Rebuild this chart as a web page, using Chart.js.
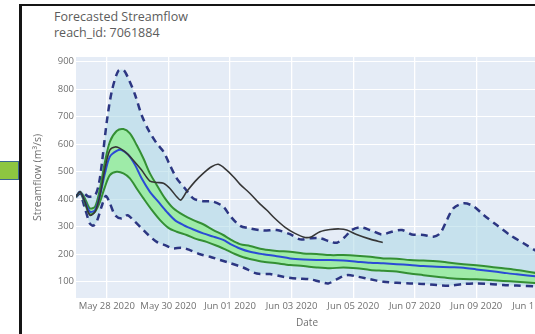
<!DOCTYPE html>
<html>
<head>
<meta charset="utf-8">
<script src="https://cdn.jsdelivr.net/npm/chart.js@4.4.1/dist/chart.umd.min.js"></script>
<style>
  html, body { margin: 0; padding: 0; background: #fff; width: 535px; height: 334px; overflow: hidden; }
  #frame { position: absolute; left: 19px; top: 4px; width: 640px; height: 400px;
           border-left: 3px solid #151515; border-top: 2px solid #151515; background: #fff; }
  #tab { position: absolute; left: -3px; top: 161px; width: 20px; height: 17px;
         background: #8dc641; border: 1.5px solid #3b6690; }
  #title { position: absolute; left: 54px; top: 9px; font: 12.5px/15.6px "Open Sans", sans-serif;
           color: #5c5c5c; white-space: nowrap; }
  #wrap { position: absolute; left: 0; top: 0; width: 600px; height: 334px; }
</style>
</head>
<body>
<div id="frame"></div>
<div id="tab"></div>
<div id="title">Forecasted Streamflow<br>reach_id: 7061884</div>
<div id="wrap"><canvas id="c" width="600" height="334"></canvas></div>
<script>
// x values are days after May 27 2020 00:00
const xTickDays = [1, 3, 5, 7, 9, 11, 13, 15];
const xTickLabels = ['May 28 2020', 'May 30 2020', 'Jun 01 2020', 'Jun 03 2020',
                     'Jun 05 2020', 'Jun 07 2020', 'Jun 09 2020', 'Jun 11 2020'];
const yTicks = [100, 200, 300, 400, 500, 600, 700, 800, 900];

// ensemble maximum
const maxDays = [0, 0.18, 0.4, 0.62, 0.75, 0.85, 1.0, 1.16, 1.37, 1.54, 1.7, 1.92, 2.13, 2.35, 2.62, 2.84, 3.05, 3.27, 3.54, 3.81, 4.13, 4.46, 4.78, 5.0, 5.33, 5.65, 6.09, 6.52, 6.95, 7.28, 7.6, 7.93, 8.25, 8.47, 8.74, 8.95, 9.22, 9.55, 9.93, 10.25, 10.58, 10.9, 11.28, 11.6, 11.82, 12.04, 12.25, 12.58, 12.9, 13.23, 13.66, 14.09, 14.53, 15.0];
const maxFlow = [409, 427, 410, 415, 460, 540, 682, 791, 866, 870, 839, 779, 706, 652, 603, 573, 524, 476, 439, 403, 393, 391, 373, 340, 303, 294, 286, 288, 273, 254, 258, 258, 246, 242, 264, 288, 298, 288, 272, 282, 288, 272, 270, 264, 276, 324, 367, 385, 375, 343, 306, 270, 240, 208];

// ensemble minimum
const minDays = [0, 0.13, 0.29, 0.45, 0.56, 0.67, 0.83, 0.97, 1.1, 1.27, 1.48, 1.67, 1.86, 2.08, 2.35, 2.62, 2.89, 3.16, 3.43, 3.7, 4.03, 4.35, 4.68, 5.0, 5.43, 5.87, 6.3, 6.73, 7.16, 7.6, 7.92, 8.19, 8.46, 8.79, 9.17, 9.55, 9.98, 10.41, 10.84, 11.28, 11.71, 12.14, 12.58, 13.0, 13.44, 13.87, 14.31, 15.0];
const minFlow = [409, 421, 367, 312, 304, 318, 373, 412, 385, 342, 330, 342, 324, 300, 270, 245, 233, 221, 224, 215, 200, 191, 179, 168, 152, 130, 128, 118, 112, 109, 100, 94, 109, 124, 118, 109, 100, 96, 94, 92, 88, 86, 92, 94, 92, 88, 86, 83];

// 75th percentile
const p75Days = [0, 0.13, 0.29, 0.45, 0.62, 0.78, 0.94, 1.1, 1.32, 1.54, 1.75, 1.97, 2.19, 2.4, 2.62, 2.89, 3.16, 3.49, 3.81, 4.13, 4.46, 4.78, 5.0, 5.32, 5.65, 6.08, 6.52, 6.95, 7.38, 7.81, 8.25, 8.68, 9.11, 9.55, 9.98, 10.41, 10.84, 11.28, 11.71, 12.14, 12.58, 13.0, 13.44, 13.87, 14.31, 15.0];
const p75Flow = [409, 427, 403, 367, 373, 439, 536, 609, 648, 655, 639, 597, 548, 494, 452, 403, 367, 342, 324, 309, 288, 270, 255, 237, 230, 218, 212, 209, 203, 201, 197, 197, 195, 191, 185, 184, 179, 177, 175, 169, 164, 160, 155, 149, 143, 131];

// ensemble mean
const meanDays = [0, 0.13, 0.29, 0.45, 0.62, 0.78, 0.94, 1.1, 1.32, 1.48, 1.7, 1.92, 2.13, 2.4, 2.67, 2.94, 3.21, 3.49, 3.81, 4.13, 4.46, 4.78, 5.0, 5.32, 5.65, 6.08, 6.52, 6.95, 7.38, 7.81, 8.25, 8.68, 9.11, 9.55, 9.98, 10.41, 10.84, 11.28, 11.71, 12.14, 12.58, 13.0, 13.44, 13.87, 14.31, 15.0];
const meanFlow = [409, 427, 391, 355, 361, 415, 494, 555, 576, 579, 561, 524, 476, 427, 391, 355, 324, 306, 290, 276, 264, 252, 238, 221, 209, 200, 193, 185, 181, 179, 179, 177, 173, 169, 167, 164, 161, 157, 155, 153, 151, 145, 139, 133, 127, 119];

// 25th percentile
const p25Days = [0, 0.13, 0.29, 0.45, 0.62, 0.78, 0.94, 1.1, 1.32, 1.54, 1.75, 1.97, 2.19, 2.46, 2.73, 3.0, 3.27, 3.59, 3.92, 4.24, 4.57, 4.89, 5.16, 5.43, 5.65, 6.08, 6.52, 6.95, 7.38, 7.81, 8.25, 8.68, 9.11, 9.55, 9.98, 10.41, 10.84, 11.28, 11.71, 12.14, 12.58, 13.0, 13.44, 13.87, 14.31, 15.0];
const p25Flow = [409, 424, 385, 345, 355, 391, 445, 488, 500, 494, 476, 439, 403, 361, 324, 296, 282, 270, 255, 245, 231, 215, 201, 189, 183, 173, 167, 161, 157, 152, 149, 152, 149, 143, 140, 137, 130, 124, 118, 113, 110, 109, 106, 103, 100, 95];

// high resolution forecast
const hresDays = [0, 0.13, 0.29, 0.45, 0.62, 0.78, 0.94, 1.1, 1.27, 1.43, 1.65, 1.86, 2.13, 2.4, 2.62, 2.84, 3.05, 3.27, 3.4, 3.59, 3.86, 4.13, 4.4, 4.62, 4.89, 5.11, 5.32, 5.65, 5.97, 6.19, 6.46, 6.79, 7.11, 7.44, 7.65, 7.92, 8.25, 8.57, 8.79, 9.11, 9.55, 9.96];
const hresFlow = [409, 427, 391, 342, 355, 415, 512, 579, 590, 585, 567, 542, 506, 466, 461, 458, 439, 409, 397, 427, 464, 494, 518, 527, 506, 482, 455, 421, 383, 361, 330, 298, 276, 261, 264, 282, 290, 292, 288, 272, 255, 243];

const pts = (xs, ys) => xs.map((x, i) => ({ x: x, y: ys[i] }));

// light blue-grey plotting area behind the grid
const plotBg = {
  id: 'plotBg',
  beforeDraw(chart) {
    const { ctx, chartArea: { left, top, width, height } } = chart;
    ctx.save();
    ctx.fillStyle = '#E5ECF6';
    ctx.fillRect(left, top, width, height);
    ctx.restore();
  }
};

const tickFont = { family: 'Open Sans', size: 9.5 };
const textGrey = '#707070';

new Chart(document.getElementById('c'), {
  type: 'line',
  data: {
    datasets: [
      { label: 'High Resolution Forecast', data: pts(hresDays, hresFlow),
        borderColor: '#363636', borderWidth: 1.6, fill: false },
      { label: 'Ensemble Average', data: pts(meanDays, meanFlow),
        borderColor: '#2b4bd6', borderWidth: 2, fill: false },
      { label: '75%', data: pts(p75Days, p75Flow),
        borderColor: '#348f34', borderWidth: 2, fill: false },
      { label: '25%', data: pts(p25Days, p25Flow),
        borderColor: '#348f34', borderWidth: 2,
        fill: { target: 2 }, backgroundColor: 'rgba(144, 238, 144, 0.75)' },
      { label: 'Max', data: pts(maxDays, maxFlow),
        borderColor: '#2c3682', borderWidth: 2.5, borderDash: [7, 5], fill: false },
      { label: 'Min', data: pts(minDays, minFlow),
        borderColor: '#2c3682', borderWidth: 2.5, borderDash: [7, 5],
        fill: { target: 4 }, backgroundColor: 'rgba(173, 216, 230, 0.55)' }
    ]
  },
  options: {
    responsive: false,
    animation: false,
    elements: { point: { radius: 0 }, line: { tension: 0.3, borderCapStyle: 'butt' } },
    layout: { padding: { top: 57, right: 62, bottom: 0, left: 0 } },
    plugins: { legend: { display: false }, tooltip: { enabled: false } },
    scales: {
      x: {
        type: 'linear', min: 0, max: 15,
        afterBuildTicks: s => { s.ticks = xTickDays.map(v => ({ value: v })); },
        afterFit: s => { s.height = 36; },
        grid: { color: '#ffffff', lineWidth: 1.3, drawTicks: false },
        border: { display: false },
        ticks: {
          font: tickFont, color: textGrey, padding: 3, maxRotation: 0, autoSkip: false,
          callback: (v) => { const i = xTickDays.indexOf(v); return i >= 0 ? xTickLabels[i] : ''; }
        },
        title: { display: true, text: 'Date', color: textGrey,
                 font: { family: 'Open Sans', size: 10 }, padding: { top: 0, bottom: 5 } }
      },
      y: {
        type: 'linear', min: 41, max: 917,
        afterBuildTicks: s => { s.ticks = yTicks.map(v => ({ value: v })); },
        afterFit: s => { s.width = 76; },
        grid: { color: '#ffffff', lineWidth: 1.1, drawTicks: false },
        border: { display: false },
        ticks: { font: tickFont, color: textGrey, padding: 2 },
        title: { display: true, text: 'Streamflow (m³/s)', color: textGrey,
                 font: { family: 'Open Sans', size: 10.5 }, padding: { top: 32, bottom: 0 } }
      }
    }
  },
  plugins: [plotBg]
});
</script>
</body>
</html>
